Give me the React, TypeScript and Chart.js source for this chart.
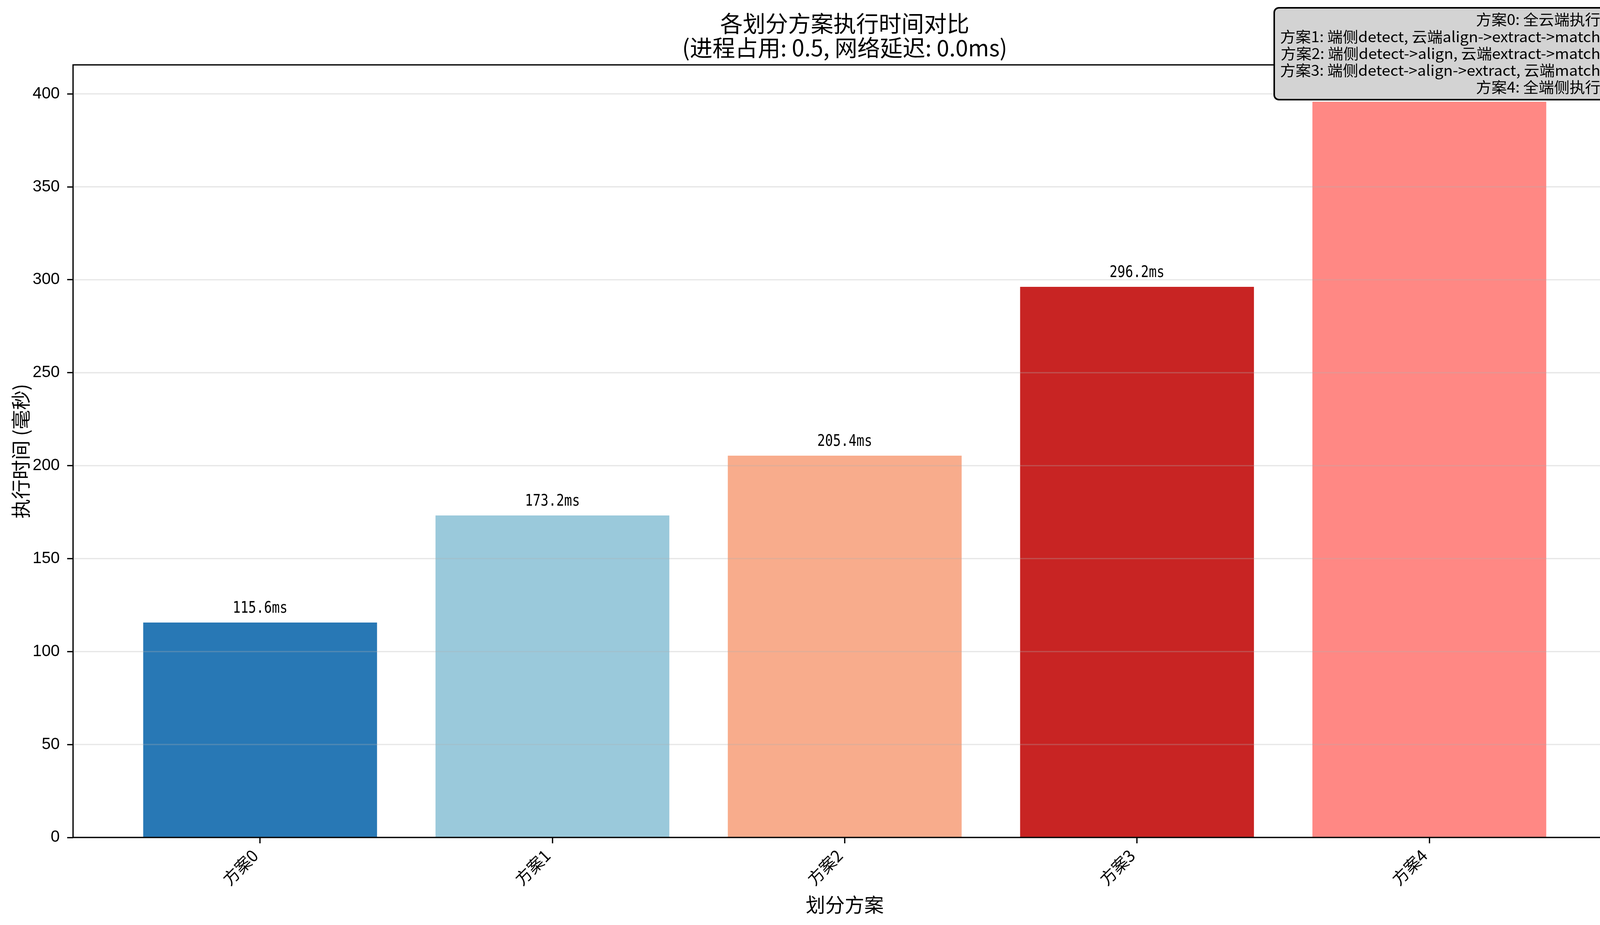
import React, { useEffect, useRef } from "react";
import { Chart, registerables } from "chart.js";

Chart.register(...registerables);

const categories = ["方案0", "方案1", "方案2", "方案3", "方案4"];
const execTimes = [115.6, 173.2, 205.4, 296.2, 395.8];
const barColors = ["#2878b5", "#9ac9db", "#f8ac8c", "#c82423", "#ff8884"];
const yTicks = [0, 50, 100, 150, 200, 250, 300, 350, 400];
const titleLines = ["各划分方案执行时间对比", "(进程占用: 0.5, 网络延迟: 0.0ms)"];
const xTitle = "划分方案";
const yTitle = "执行时间 (毫秒)";
const schemeNotes = [
  "方案0: 全云端执行",
  "方案1: 端侧detect, 云端align->extract->match",
  "方案2: 端侧detect->align, 云端extract->match",
  "方案3: 端侧detect->align->extract, 云端match",
  "方案4: 全端侧执行",
];

const W = 4168;
const H = 2367;
const CJK = "'Noto Sans CJK SC', 'Noto Sans', sans-serif";
const NUM = "'Liberation Sans', 'Noto Sans CJK SC', sans-serif";
const MONO = "'DejaVu Sans Mono', 'Noto Sans CJK SC', monospace";
const Y_MAX = Math.max(...execTimes) * 1.05;

const overlayPlugin = {
  id: "overlay",
  afterDatasetsDraw(chart: any) {
    const { ctx, chartArea, scales } = chart;
    const y = scales.y;
    ctx.save();
    // grid lines above bars (matplotlib style)
    ctx.strokeStyle = "rgba(176,176,176,0.3)";
    ctx.lineWidth = 3.3;
    yTicks.forEach((v) => {
      const py = y.getPixelForValue(v);
      ctx.beginPath();
      ctx.moveTo(chartArea.left, py);
      ctx.lineTo(chartArea.right, py);
      ctx.stroke();
    });
    // value labels (narrow monospace look)
    const meta = chart.getDatasetMeta(0);
    ctx.fillStyle = "#000";
    ctx.font = `41.7px ${MONO}`;
    ctx.textAlign = "center";
    ctx.textBaseline = "alphabetic";
    meta.data.forEach((bar: any, i: number) => {
      ctx.save();
      ctx.translate(bar.x, bar.y - 25);
      ctx.scale(0.8, 1);
      ctx.fillText(`${execTimes[i].toFixed(1)}ms`, 0, 0);
      ctx.restore();
    });
    // spines
    ctx.strokeStyle = "#000";
    ctx.lineWidth = 3.3;
    ctx.strokeRect(
      chartArea.left,
      chartArea.top,
      chartArea.right - chartArea.left,
      chartArea.bottom - chartArea.top
    );
    ctx.restore();
  },
  afterDraw(chart: any) {
    const { ctx } = chart;
    ctx.save();
    const fontSize = 37.5;
    ctx.font = `${fontSize}px ${CJK}`;
    const widths = schemeNotes.map((t) => ctx.measureText(t).width);
    const maxW = Math.max(...widths);
    const targetW = 820;
    const sx = targetW / maxW;
    const textRight = 4097;
    const boxLeft = textRight - targetW - 15;
    const boxRight = 4112;
    const boxTop = 20;
    const boxBottom = 255;
    ctx.beginPath();
    ctx.roundRect(boxLeft, boxTop, boxRight - boxLeft, boxBottom - boxTop, 12);
    ctx.fillStyle = "#d3d3d3";
    ctx.fill();
    ctx.strokeStyle = "#000";
    ctx.lineWidth = 4;
    ctx.stroke();
    ctx.fillStyle = "#000";
    ctx.textAlign = "right";
    ctx.textBaseline = "middle";
    schemeNotes.forEach((t, i) => {
      ctx.save();
      ctx.translate(textRight, 50 + i * 43.3);
      ctx.scale(sx, 1);
      ctx.fillText(t, 0, 0);
      ctx.restore();
    });
    ctx.restore();
  },
};

export default function App() {
  const canvasRef = useRef<HTMLCanvasElement | null>(null);

  useEffect(() => {
    const canvas = canvasRef.current;
    if (!canvas) return;
    const chart = new Chart(canvas, {
      type: "bar",
      data: {
        datasets: [
          {
            label: "执行时间",
            data: execTimes.map((v, i) => ({ x: i, y: v })),
            backgroundColor: barColors,
            borderWidth: 0,
            barPercentage: 0.8,
            categoryPercentage: 1.0,
          },
        ],
      },
      options: {
        animation: false,
        responsive: false,
        devicePixelRatio: 1,
        layout: { padding: { left: 0, right: 30, top: 0, bottom: 0 } },
        plugins: {
          legend: { display: false },
          tooltip: { enabled: false },
          title: {
            display: true,
            text: titleLines,
            color: "#000",
            fullSize: false,
            font: { family: CJK, size: 58, weight: "normal", lineHeight: 62 / 58 },
            padding: { top: 29, bottom: 13 },
          },
        },
        scales: {
          x: {
            type: "linear",
            min: -0.64,
            max: 4.64,
            offset: false,
            afterBuildTicks: (s: any) => {
              s.ticks = categories.map((_, i) => ({ value: i }));
            },
            afterFit: (s: any) => {
              s.height = H - 2143;
            },
            ticks: {
              callback: (v: any) => categories[Math.round(Number(v))] ?? "",
              color: "#000",
              font: { family: CJK, size: 41.7 },
              minRotation: 45,
              maxRotation: 45,
              autoSkip: false,
              padding: 6,
              labelOffset: -13,
            },
            grid: {
              offset: false,
              drawOnChartArea: false,
              drawTicks: true,
              tickLength: 15,
              tickWidth: 3.3,
              tickColor: "#000",
            },
            border: { display: false },
            title: {
              display: true,
              text: xTitle,
              color: "#000",
              font: { family: CJK, size: 50, lineHeight: 1.2 },
              padding: { top: 0, bottom: 22 },
            },
          },
          y: {
            type: "linear",
            min: 0,
            max: Y_MAX,
            afterBuildTicks: (s: any) => {
              s.ticks = yTicks.map((v) => ({ value: v }));
            },
            afterFit: (s: any) => {
              s.width = 187;
            },
            ticks: {
              color: "#000",
              font: { family: NUM, size: 41.7 },
              padding: 19,
            },
            grid: {
              drawOnChartArea: false,
              drawTicks: true,
              tickLength: 15,
              tickWidth: 3.3,
              tickColor: "#000",
            },
            border: { display: false },
            title: {
              display: true,
              text: yTitle,
              color: "#000",
              font: { family: CJK, size: 50, lineHeight: 1.2 },
              padding: { top: 23, bottom: 0 },
            },
          },
        },
      } as any,
      plugins: [overlayPlugin],
    });
    return () => chart.destroy();
  }, []);

  return (
    <div style={{ position: "absolute", left: 0, top: 0, width: W, height: H, background: "#fff" }}>
      <canvas ref={canvasRef} width={W} height={H} style={{ display: "block", width: W, height: H }} />
    </div>
  );
}
